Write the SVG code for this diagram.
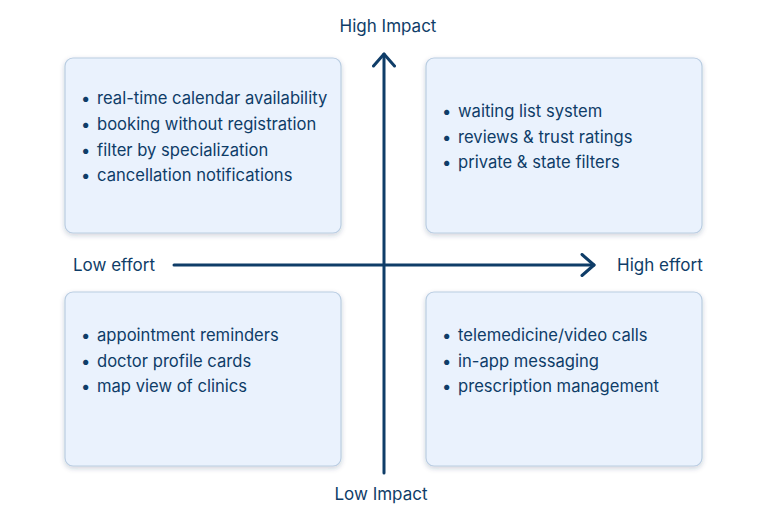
<svg xmlns="http://www.w3.org/2000/svg" width="768" height="520" viewBox="0 0 768 520">
<defs>
<filter id="sh" x="-10%" y="-10%" width="120%" height="125%">
<feDropShadow dx="0" dy="2" stdDeviation="2.5" flood-color="#1e3a5f" flood-opacity="0.22"/>
</filter>
<marker id="chev" viewBox="0 0 20 24" refX="16" refY="12" markerWidth="20" markerHeight="24" markerUnits="userSpaceOnUse" orient="auto">
<path d="M4 1.5 L16 12 L4 22.5" fill="none" stroke="#0f3d68" stroke-width="3" stroke-linecap="round" stroke-linejoin="round"/>
</marker>
<style>
.box{fill:#eaf2fd;stroke:#b9cde2;stroke-width:1.2;filter:url(#sh)}
.t{font-family:Inter,"Noto Sans","Liberation Sans",sans-serif;font-size:17px;fill:#0f3d68}
.b{font-family:Inter,"Noto Sans","Liberation Sans",sans-serif;font-size:16.6px;fill:#0f3d68}
.ax{stroke:#0f3d68;stroke-width:3;fill:none;stroke-linecap:round;marker-end:url(#chev)}
</style>
</defs>
<rect width="768" height="520" fill="#ffffff"/>
<g id="connectors">
<line class="ax" x1="384" y1="473" x2="384" y2="54"/>
<line class="ax" x1="174" y1="265" x2="594" y2="265"/>
</g>
<g id="axis-labels">
<text class="t" x="388" y="32" text-anchor="middle">High Impact</text>
<text class="t" x="381" y="500" text-anchor="middle">Low Impact</text>
<text class="t" x="73" y="271">Low effort</text>
<text class="t" x="617" y="271">High effort</text>
</g>
<g id="quick-wins">
<rect class="box" x="65" y="58" width="276" height="175" rx="8"/>
<text class="b" x="81" y="104">•</text><text class="b" x="97" y="104">real-time calendar availability</text>
<text class="b" x="81" y="130">•</text><text class="b" x="97" y="130">booking without registration</text>
<text class="b" x="81" y="156">•</text><text class="b" x="97" y="156">filter by specialization</text>
<text class="b" x="81" y="181">•</text><text class="b" x="97" y="181">cancellation notifications</text>
</g>
<g id="major-projects">
<rect class="box" x="426" y="58" width="276" height="175" rx="8"/>
<text class="b" x="442" y="117">•</text><text class="b" x="458" y="117">waiting list system</text>
<text class="b" x="442" y="143">•</text><text class="b" x="458" y="143">reviews &amp; trust ratings</text>
<text class="b" x="442" y="168">•</text><text class="b" x="458" y="168">private &amp; state filters</text>
</g>
<g id="fill-ins">
<rect class="box" x="65" y="292" width="276" height="174" rx="8"/>
<text class="b" x="81" y="341">•</text><text class="b" x="97" y="341">appointment reminders</text>
<text class="b" x="81" y="367">•</text><text class="b" x="97" y="367">doctor profile cards</text>
<text class="b" x="81" y="392">•</text><text class="b" x="97" y="392">map view of clinics</text>
</g>
<g id="thankless">
<rect class="box" x="426" y="292" width="276" height="174" rx="8"/>
<text class="b" x="442" y="341">•</text><text class="b" x="458" y="341">telemedicine/video calls</text>
<text class="b" x="442" y="367">•</text><text class="b" x="458" y="367">in-app messaging</text>
<text class="b" x="442" y="392">•</text><text class="b" x="458" y="392">prescription management</text>
</g>
</svg>
